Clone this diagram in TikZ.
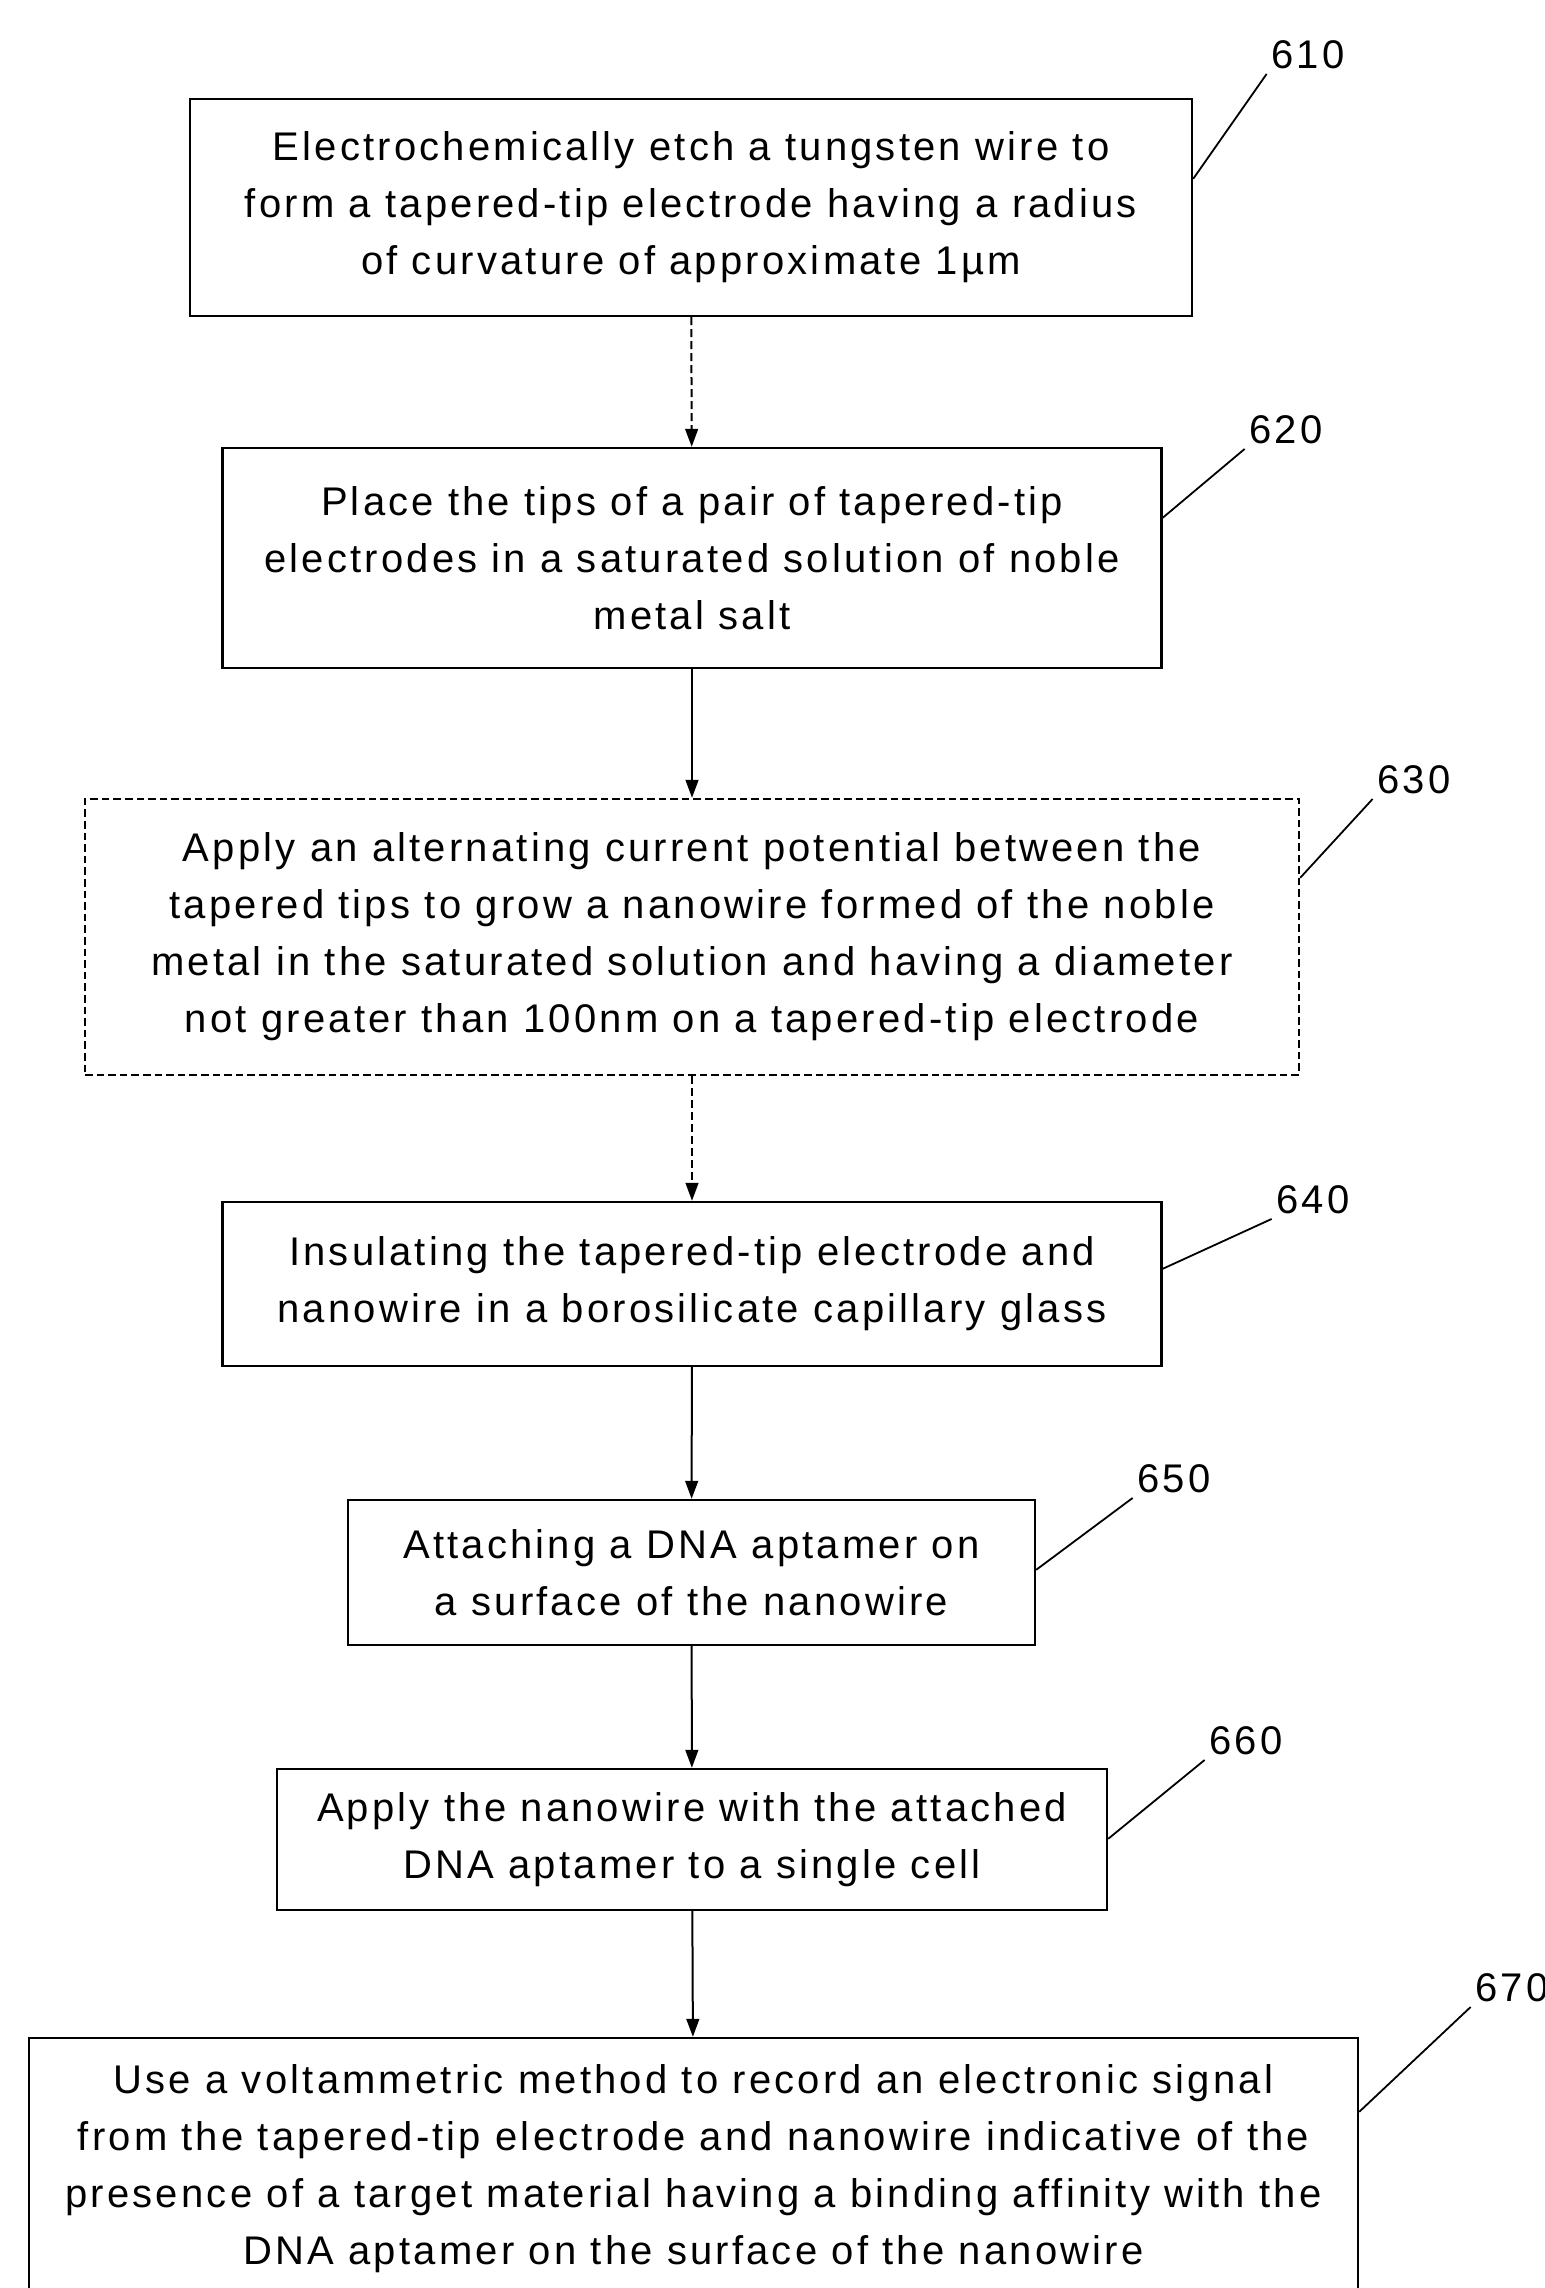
\documentclass[tikz,border=0pt]{standalone}
\usepackage{fontspec}
\setmainfont[LetterSpace=8]{Liberation Sans}
\usetikzlibrary{arrows.meta,calc}
\begin{document}
\begin{tikzpicture}[x=0.25pt,y=-0.25pt,
  txt/.style={font=\fontsize{10}{14.25}\selectfont},
  stepbox/.style={txt,draw,line width=0.6pt,align=center,inner sep=0pt},
  dashbox/.style={stepbox,dash pattern=on 1.9pt off 1pt},
  lbl/.style={txt,inner sep=1pt},
  flow/.style={line width=0.5pt,-{Triangle[length=4.5pt,width=3.2pt]}},
  dflow/.style={flow,dash pattern=on 2pt off 1pt},
  leader/.style={line width=0.45pt}
]
\useasboundingbox (0,0) rectangle (1544,2288);

\node[stepbox,minimum width=250.5pt,minimum height=54.25pt] (b610) at (691,207.5)
  {Electrochemically etch a tungsten wire to\\form a tapered-tip electrode having a radius\\of curvature of approximate 1µm};
\node[stepbox,minimum width=234.75pt,minimum height=55pt] (b620) at (692,558)
  {Place the tips of a pair of tapered-tip\\electrodes in a saturated solution of noble\\metal salt};
\node[dashbox,minimum width=303.5pt,minimum height=69pt] (b630) at (692,937)
  {Apply an alternating current potential between the\\tapered tips to grow a nanowire formed of the noble\\metal in the saturated solution and having a diameter\\not greater than 100nm on a tapered-tip electrode};
\node[stepbox,minimum width=234.75pt,minimum height=41pt] (b640) at (692,1284)
  {Insulating the tapered-tip electrode and\\nanowire in a borosilicate capillary glass};
\node[stepbox,minimum width=171.75pt,minimum height=36.25pt] (b650) at (691.5,1572.5)
  {Attaching a DNA aptamer on\\a surface of the nanowire};
\node[stepbox,minimum width=207.5pt,minimum height=35.25pt] (b660) at (692,1839.5)
  {Apply the nanowire with the attached\\DNA aptamer to a single cell};
\node[stepbox,minimum width=332.25pt,minimum height=65.5pt] (b670) at (693.5,2169)
  {Use a voltammetric method to record an electronic signal\\from the tapered-tip electrode and nanowire indicative of the\\presence of a target material having a binding affinity with the\\DNA aptamer on the surface of the nanowire};

\draw[dflow] (b610) -- (b620);
\draw[flow] (b620) -- (b630);
\draw[dflow] (b630) -- (b640);
\draw[flow] (b640) -- (b650);
\draw[flow] (b650) -- (b660);
\draw[flow] (b660) -- (b670);

\node[lbl] (l610) at (1308,55) {610};
\node[lbl] (l620) at (1286,430) {620};
\node[lbl] (l630) at (1414,780) {630};
\node[lbl] (l640) at (1313,1200) {640};
\node[lbl] (l650) at (1174,1479) {650};
\node[lbl] (l660) at (1246,1741) {660};
\node[lbl] (l670) at (1512,1988) {670};

\draw[leader] ($(b610.north east)+(0,81)$) -- (l610.south west);
\draw[leader] ($(b620.north east)+(0,71)$) -- (l620.south west);
\draw[leader] ($(b630.north east)+(0,80)$) -- (l630.south west);
\draw[leader] ($(b640.north east)+(0,68)$) -- (l640.south west);
\draw[leader] ($(b650.north east)+(0,71)$) -- (l650.south west);
\draw[leader] ($(b660.north east)+(0,71)$) -- (l660.south west);
\draw[leader] ($(b670.north east)+(0,75)$) -- (l670.south west);
\end{tikzpicture}
\end{document}
